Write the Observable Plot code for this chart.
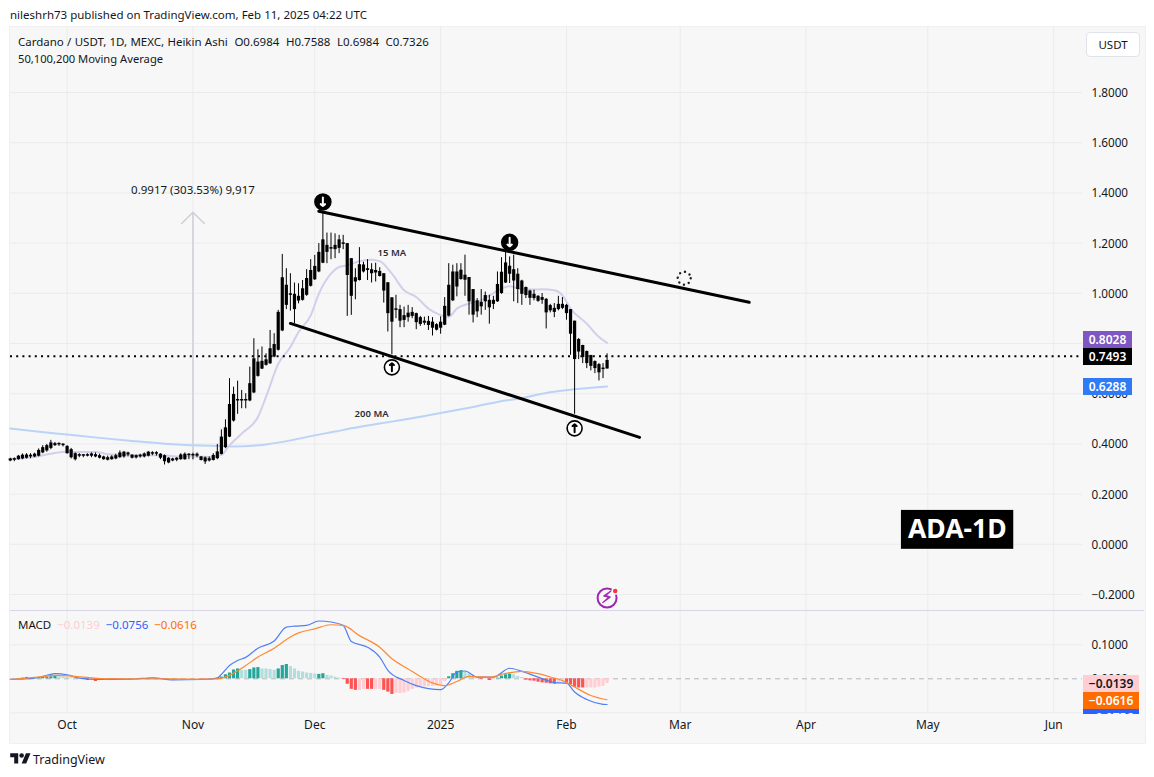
<!DOCTYPE html>
<html><head><meta charset="utf-8">
<script src="https://cdn.jsdelivr.net/npm/d3@7"></script>
<script src="https://cdn.jsdelivr.net/npm/@observablehq/plot@0.6"></script>
<style>
html,body{margin:0;padding:0;background:#fff;}
#page{position:relative;width:1154px;height:777px;overflow:hidden;font-family:"Noto Sans",sans-serif;color:#131722;font-size:11.5px;}
#frame{position:absolute;left:9px;top:26px;width:1135px;height:716px;background:#f7f7f7;border:1px solid #f0f0f0;box-sizing:content-box;}
#page svg.layer{position:absolute;left:0;top:0;}
.t{position:absolute;white-space:pre;line-height:16px;}
.tag{position:absolute;overflow:hidden;text-align:center;font-size:12px;line-height:17px;font-weight:600;color:#fff;}
</style></head><body><div id="page"><div id="frame"></div></div>
<script>
// ---- Daily Heikin Ashi candles, 2024-09-17 to 2025-02-11 ----
const highs = [
.343,.344,.354,.360,.361,.361,.363,.380,.393,.398,.414,.406,.404,.401,
.393,.382,.364,.361,.357,.361,.364,.364,.359,.351,.351,.353,.359,.372,.370,.367,.357,.356,.359,.364,.370,.369,.369,.361,.356,.345,.343,.345,.361,.364,.361,
.363,.364,.350,.348,.348,.361,.398,.456,.496,.660,.626,.650,.613,.600,.706,.819,.775,.786,.759,.852,.839,.932,1.155,1.098,1.078,1.041,1.038,1.051,1.094,1.134,
1.151,1.198,1.324,1.240,1.240,1.237,1.231,1.231,1.198,1.138,1.098,1.182,1.124,1.134,1.118,1.120,1.102,1.078,1.042,.982,.992,.952,.945,.952,.943,.921,.908,.905,.908,.903,.879,
.906,.983,1.118,1.112,1.118,1.118,1.152,1.063,1.015,.979,1.015,1.005,.992,.988,1.085,1.142,1.165,1.145,1.152,1.098,1.052,1.025,1.012,1.012,.991,.999,.979,.956,.959,.988,.983,
.956,.935,.889,.820,.793,.770,.753,.731,.720,.720,.7588];
const bodyTops = [
.340,.339,.351,.355,.356,.355,.359,.374,.385,.393,.404,.401,.400,.398,
.390,.377,.361,.356,.353,.357,.360,.357,.353,.348,.345,.348,.353,.364,.367,.364,.355,.353,.355,.360,.367,.365,.364,.359,.353,.343,.340,.343,.356,.359,.359,
.357,.359,.348,.344,.341,.354,.368,.427,.464,.557,.597,.576,.576,.576,.640,.739,.726,.729,.735,.779,.796,.924,1.062,1.032,.996,.996,.988,1.018,1.059,1.091,
1.107,1.163,1.213,1.191,1.179,1.191,1.213,1.200,1.198,1.138,1.062,1.114,1.113,1.098,1.094,1.091,1.087,1.078,1.042,.982,.937,.935,.911,.921,.924,.919,.903,.889,.888,.885,.875,
.885,.948,1.032,1.085,1.085,1.092,1.072,1.063,1.015,.970,.964,.991,.972,.972,1.035,1.084,1.121,1.108,1.094,1.076,1.049,1.023,1.009,.996,.988,.983,.976,.951,.940,.956,.956,
.952,.935,.889,.816,.792,.768,.752,.728,.716,.700,.7326];
const bodyBottoms = [
.332,.335,.337,.340,.343,.348,.348,.351,.364,.372,.382,.393,.396,.393,
.361,.345,.337,.351,.351,.351,.351,.348,.343,.337,.335,.337,.340,.345,.348,.356,.343,.344,.348,.348,.351,.359,.359,.343,.329,.324,.332,.335,.337,.337,.353,
.352,.351,.334,.328,.332,.334,.341,.358,.385,.427,.491,.571,.571,.571,.571,.603,.669,.698,.713,.719,.746,.773,.850,.952,.992,.935,.969,.972,.992,1.028,
1.054,1.085,1.120,1.163,1.176,1.174,1.179,1.195,1.071,.988,1.045,1.051,1.085,1.091,1.078,1.081,1.067,1.009,.919,.885,.932,.889,.892,.903,.908,.883,.876,.881,.872,.861,.853,
.861,.873,.909,.970,1.025,1.055,1.052,.966,.913,.926,.946,.966,.942,.956,.966,.999,1.041,1.076,1.049,1.015,.996,.991,.980,.979,.968,.972,.922,.930,.924,.935,.940,
.919,.837,.736,.766,.744,.720,.709,.700,.683,.696,.6984];
const lows = [
.329,.329,.335,.337,.340,.341,.345,.348,.361,.367,.377,.390,.390,.388,
.359,.340,.332,.345,.345,.348,.345,.345,.340,.335,.332,.335,.337,.343,.343,.348,.340,.340,.343,.344,.348,.353,.351,.337,.316,.321,.329,.329,.335,.335,.337,
.337,.345,.332,.318,.328,.332,.337,.356,.381,.425,.487,.518,.540,.540,.568,.600,.666,.696,.710,.717,.743,.770,.847,.935,.929,.879,.958,.969,.988,1.025,
1.051,1.082,1.118,1.118,1.134,1.138,1.158,1.174,.908,.912,.974,1.049,1.081,1.051,1.041,1.045,1.065,.961,.846,.755,.899,.863,.863,.885,.899,.855,.868,.872,.852,.830,.850,
.837,.871,.906,.967,.986,1.052,.988,.913,.882,.903,.913,.932,.877,.935,.964,.996,1.039,1.039,.966,.959,.952,.979,.952,.970,.964,.956,.858,.922,.903,.930,.935,
.893,.753,.518,.736,.720,.700,.691,.680,.651,.660,.6984];
const startDate = new Date("2024-09-17"), endDate = new Date("2025-02-12");
const days = d3.utcDay.range(startDate, endDate);

// ---- Moving averages ----
const ma15Dates = ["2024-09-17","2024-09-23","2024-09-27","2024-10-01","2024-10-03","2024-10-08","2024-10-11","2024-10-18","2024-10-24","2024-10-28","2024-11-01","2024-11-06","2024-11-08","2024-11-10","2024-11-13","2024-11-17","2024-11-19","2024-11-22","2024-11-25","2024-11-27","2024-11-30","2024-12-02","2024-12-05","2024-12-07","2024-12-09","2024-12-12","2024-12-15","2024-12-17","2024-12-20","2024-12-23","2024-12-26","2024-12-29","2025-01-01","2025-01-03","2025-01-05","2025-01-08","2025-01-11","2025-01-14","2025-01-16","2025-01-18","2025-01-21","2025-01-24","2025-01-26","2025-01-29","2025-01-31","2025-02-02","2025-02-06","2025-02-09","2025-02-11"];
const ma15Values = [.340,.348,.361,.370,.368,.368,.359,.355,.355,.350,.350,.348,.356,.394,.441,.507,.587,.719,.786,.846,.912,.998,1.078,1.105,1.111,1.128,1.134,1.128,1.078,1.012,.985,.939,.913,.906,.939,.959,.972,1.001,1.019,1.028,1.016,1.015,1.016,1.012,.992,.939,.879,.826,.8028];
const ma200Dates = ["2024-09-17","2024-09-23","2024-10-01","2024-10-09","2024-10-17","2024-10-25","2024-11-03","2024-11-08","2024-11-11","2024-11-19","2024-11-26","2024-12-01","2024-12-06","2024-12-10","2024-12-17","2024-12-22","2024-12-29","2025-01-07","2025-01-15","2025-01-21","2025-01-27","2025-02-01","2025-02-11"];
const ma200Values = [.461,.450,.437,.424,.412,.401,.394,.392,.390,.398,.417,.434,.449,.462,.481,.494,.514,.541,.567,.583,.603,.614,.6288];

// ---- Drawn trend lines and annotations ----
const upperTrendDates = ["2024-12-02","2025-03-18"], upperTrendValues = [1.327,.964];
const lowerTrendDates = ["2024-11-25","2025-02-19"], lowerTrendValues = [.880,.426];
const lastPrice = .7493;
const downMarkers = [["2024-12-03",1.364],["2025-01-18",1.203]];
const upMarkers = [["2024-12-20",.705],["2025-02-03",.462]];
const priceTicks = [1.8,1.6,1.4,1.2,1.0,.8,.6,.4,.2,0,-.2];
const monthTicks = ["2024-10-01","2024-11-01","2024-12-01","2025-01-01","2025-02-01","2025-03-01","2025-04-01","2025-05-01","2025-06-01"];
const monthLabels = ["Oct","Nov","Dec","2025","Feb","Mar","Apr","May","Jun"];

// ---- MACD panel ----
const histValues = [
0,0,.001,.002,.004,.003,.003,.003,.004,.005,.006,.007,.006,.005,
.004,.003,.002,0,-.002,-.005,-.004,-.008,-.002,-.003,-.004,-.004,-.005,-.003,-.002,-.001,-.001,0,0,0,.001,.001,.001,0,-.001,-.001,-.001,-.001,-.001,-.001,0,
0,0,-.001,-.001,-.001,0,.002,.005,.012,.017,.026,.029,.025,.025,.027,.032,.033,.029,.029,.027,.025,.029,.039,.042,.036,.029,.022,.020,.017,.016,
.014,.013,.015,.010,.008,.005,.002,-.002,-.016,-.031,-.034,-.034,-.031,-.031,-.031,-.031,-.031,-.034,-.039,-.046,-.043,-.043,-.042,-.037,-.031,-.027,-.025,-.024,-.023,-.023,-.021,
-.018,-.008,.006,.015,.022,.024,.020,.014,.005,.002,-.002,-.001,-.005,-.003,.002,.008,.012,.014,.012,.007,.004,-.004,-.006,-.007,-.010,-.012,-.013,-.015,-.016,-.012,-.011,
-.013,-.017,-.025,-.027,-.027,-.027,-.027,-.027,-.024,-.022,-.0139];
const histKinds = (
"TTTTTLLTTTTTLL"+
"LLLLRRPRPRRRRPPPPLLLTTTLRRRPPPL"+
"LLRRPLTTTTTTLLTTTLLLLTTTLLLLLL"+
"LTTLLLLRRRRPPRRPPRRRPPPPPPPPPPP"+
"PPTTTTLLLLRPRPTTTTLLLRRRRRRRRPP"+
"RRRRRPPPPPP").split("");
const histColors = {T:"#26a69a",L:"#b2dfdb",R:"#ff5252",P:"#ffcdd2"};
const macdDates = ["2024-09-17","2024-09-23","2024-09-25","2024-09-28","2024-10-01","2024-10-04","2024-10-09","2024-10-17","2024-10-22","2024-10-27","2024-11-03","2024-11-07","2024-11-08","2024-11-10","2024-11-12","2024-11-14","2024-11-17","2024-11-21","2024-11-24","2024-11-26","2024-11-29","2024-12-02","2024-12-05","2024-12-08","2024-12-10","2024-12-14","2024-12-17","2024-12-19","2024-12-23","2024-12-26","2024-12-29","2025-01-01","2025-01-03","2025-01-05","2025-01-07","2025-01-10","2025-01-14","2025-01-18","2025-01-21","2025-01-25","2025-01-29","2025-02-01","2025-02-03","2025-02-06","2025-02-10","2025-02-11"];
const macdValues = [-.002,.002,.007,.015,.012,.002,-.002,-.001,.003,-.003,-.002,.002,.013,.039,.054,.063,.090,.111,.152,.155,.157,.170,.167,.157,.110,.093,.064,.025,-.005,-.020,-.029,-.032,-.012,.020,.023,.005,.005,.031,.022,.005,-.011,-.013,-.039,-.061,-.075,-.0756];
const signalDates = ["2024-09-17","2024-09-23","2024-09-28","2024-10-05","2024-10-11","2024-10-17","2024-11-03","2024-11-07","2024-11-10","2024-11-14","2024-11-17","2024-11-21","2024-11-25","2024-11-27","2024-12-01","2024-12-05","2024-12-08","2024-12-12","2024-12-17","2024-12-20","2024-12-24","2024-12-27","2024-12-30","2025-01-02","2025-01-05","2025-01-08","2025-01-13","2025-01-17","2025-01-21","2025-01-25","2025-01-29","2025-01-31","2025-02-03","2025-02-07","2025-02-11"];
const signalValues = [-.002,.004,.010,.005,0,0,-.001,0,.010,.039,.064,.090,.123,.135,.147,.159,.157,.127,.093,.059,.029,.007,-.012,-.020,-.008,.007,.005,.016,.022,.015,.002,-.005,-.024,-.049,-.0616];
const macdTicks = [.1,0];

const FONT = '"Noto Sans",sans-serif';
const INK = "#131722", GRID = "#ebebeb";
const xScale = {type:"utc", domain:[new Date("2024-09-17"), new Date("2025-06-08")], range:[9.76,1081.6]};
const D = s => new Date(s);
const series = (ds,vs) => ds.map((d,i)=>({d:D(d),v:vs[i]}));
const fmt = v => (v<0?"\u2212":"")+Math.abs(v).toFixed(4);
const page = document.getElementById("page");
const baseOpts = {width:1154, marginLeft:10, marginRight:72, x:xScale,
  style:{background:"transparent", fontFamily:FONT, fontSize:"11.5px", color:INK, overflow:"visible"}};

const price = Plot.plot({...baseOpts, height:743, marginTop:27, marginBottom:133,
  y:{domain:[1.8,-.2], range:[92,594]},
  marks:[
    Plot.ruleY(priceTicks,{stroke:GRID, strokeWidth:1}),
    Plot.ruleX(monthTicks.map(D),{stroke:GRID, strokeWidth:1, y1:2.06, y2:-.263}),
    Plot.axisY({anchor:"right", ticks:priceTicks, tickSize:0, tickPadding:9, dy:0.8, tickFormat:fmt, label:null, fontSize:11.7, fill:INK}),
    Plot.axisX({ticks:[], label:null, tickSize:0}),
    // measure arrow
    Plot.arrow([0],{x1:D("2024-11-01"),y1:.338,x2:D("2024-11-01"),y2:1.323,stroke:"#cfd1d8",strokeWidth:1.6,headLength:15,headAngle:90,bend:0}),
    Plot.text(["0.9917 (303.53%) 9,917"],{x:D("2024-11-01"),y:1.41,text:d=>d,fill:INK,fontSize:11.5}),
    // moving averages
    Plot.line(series(ma200Dates,ma200Values),{x:"d",y:"v",stroke:"#bbd3f8",strokeWidth:2,curve:"monotone-x"}),
    Plot.line(series(ma15Dates,ma15Values),{x:"d",y:"v",stroke:"#d5cdec",strokeWidth:2,curve:"monotone-x"}),
    // last price
    Plot.ruleY([lastPrice],{stroke:"#000",strokeWidth:2,strokeDasharray:"2 4.2"}),
    // candles
    Plot.ruleX(days,{x:d=>d,y1:(d,i)=>lows[i],y2:(d,i)=>highs[i],stroke:"#000",strokeWidth:1}),
    Plot.ruleX(days,{x:d=>d,y1:(d,i)=>bodyBottoms[i],y2:(d,i)=>Math.max(bodyTops[i],bodyBottoms[i]+.006),stroke:"#000",strokeWidth:3.2}),
    // trend lines
    Plot.line(series(upperTrendDates,upperTrendValues),{x:"d",y:"v",stroke:"#000",strokeWidth:3}),
    Plot.line(series(lowerTrendDates,lowerTrendValues),{x:"d",y:"v",stroke:"#000",strokeWidth:3}),
    // markers
    Plot.dot(downMarkers,{x:d=>D(d[0]),y:d=>d[1],r:8,fill:"#000",stroke:"#000"}),
    Plot.arrow(downMarkers,{x1:d=>D(d[0]),x2:d=>D(d[0]),y1:d=>d[1]+.018,y2:d=>d[1]-.016,stroke:"#fff",strokeWidth:2,headLength:2.4,headAngle:100,bend:0}),
    Plot.dot(upMarkers,{x:d=>D(d[0]),y:d=>d[1],r:7.5,fill:"#fff",stroke:"#000",strokeWidth:1.6}),
    Plot.arrow(upMarkers,{x1:d=>D(d[0]),x2:d=>D(d[0]),y1:d=>d[1]-.016,y2:d=>d[1]+.016,stroke:"#000",strokeWidth:2,headLength:2.2,headAngle:100,bend:0}),
    Plot.text(["15 MA"],{x:D("2024-12-20"),y:1.159,text:d=>d,fontSize:9.5,fontWeight:600,fill:"#2a2e39"}),
    Plot.text(["200 MA"],{x:D("2024-12-15"),y:.518,text:d=>d,fontSize:9.5,fontWeight:600,fill:"#2a2e39"}),
    // spinner
    Plot.dot([0],{x:D("2025-03-02"),y:1.06,r:6.5,fill:"none",stroke:"#1c1c1c",strokeWidth:2.4,strokeLinecap:"round",strokeDasharray:"0.01 5.1"}),
    // ADA-1D label
    Plot.rect([0],{x1:D("2025-04-24T12:00"),x2:D("2025-05-22T04:00"),y1:.135,y2:-.02,fill:"#000"}),
    Plot.text(["ADA-1D"],{x:D("2025-05-08T06:00"),y:.0575,text:d=>d,fill:"#fff",fontSize:26.5,fontWeight:700}),
    // lightning badge
    Plot.dot([0],{x:D("2025-02-11"),y:-.214,r:9.5,fill:"#f7f7f7",stroke:"#9c27b0",strokeWidth:2}),
    Plot.text(["\u26A1"],{x:D("2025-02-11"),y:-.214,text:d=>d,fill:"#9c27b0",stroke:"#9c27b0",strokeWidth:0.6,fontSize:17,fontFamily:"DejaVu Sans"}),
    Plot.dot([0],{x:D("2025-02-13"),y:-.186,r:3,fill:"#f23645",stroke:"#f7f7f7",strokeWidth:1.5})
  ]});
price.classList.add("layer");
page.appendChild(price);

const macd = Plot.plot({...baseOpts, height:743, marginTop:611, marginBottom:31,
  y:{domain:[.1,-.1], range:[644.3,712.3]},
  marks:[
    Plot.ruleY([.1,-.1],{stroke:GRID, strokeWidth:1}),
    Plot.ruleX(monthTicks.map(D),{stroke:GRID, strokeWidth:1, y1:.198, y2:-.1}),
    Plot.ruleY([0],{stroke:"#b2b5be",strokeWidth:1,strokeDasharray:"5 4"}),
    Plot.axisY({anchor:"right", ticks:macdTicks, tickSize:0, tickPadding:9, dy:0.8, tickFormat:fmt, label:null, fontSize:11.7, fill:INK}),
    Plot.axisX({ticks:monthTicks.map(D), tickSize:0, tickPadding:8, label:null, fontSize:12, fill:INK, tickFormat:(d,i)=>monthLabels[i], fontWeight:d=>d.getUTCFullYear()===2025&&d.getUTCMonth()===0?700:400}),
    Plot.ruleX(days,{x:d=>d,y1:0,y2:(d,i)=>histValues[i],strokeWidth:3.2,stroke:(d,i)=>histColors[histKinds[i]]}),
    Plot.line(series(macdDates,macdValues),{x:"d",y:"v",stroke:"#4f7ff5",strokeWidth:1.2,curve:"monotone-x"}),
    Plot.line(series(signalDates,signalValues),{x:"d",y:"v",stroke:"#ff8a33",strokeWidth:1.2,curve:"monotone-x"})
  ]});
macd.classList.add("layer");
page.appendChild(macd);

// Pane divider
const divider = document.createElement("div");
divider.style.cssText = "position:absolute;left:10px;top:610px;width:1134px;height:1px;background:#d8d6e6;";
page.appendChild(divider);

// ---- HTML overlays: captions and axis tags ----
function text(left, top, html, extra=""){
  const el = document.createElement("div");
  el.className = "t"; el.style.cssText = `left:${left}px;top:${top}px;${extra}`;
  el.innerHTML = html; page.appendChild(el); return el;
}
function tag(left, top, w, h, bg, label, color="#fff"){
  const el = document.createElement("div");
  el.className = "tag"; el.style.cssText = `left:${left}px;top:${top}px;width:${w}px;height:${h}px;background:${bg};color:${color};`;
  el.textContent = label; page.appendChild(el);
}
text(10,7,"nileshrh73 published on TradingView.com, Feb 11, 2025 04:22 UTC");
text(18,34,"Cardano / USDT, 1D, MEXC, Heikin Ashi  O0.6984  H0.7588  L0.6984  C0.7326","word-spacing:0.3px;");
text(18,51,"50,100,200 Moving Average","font-size:11.2px;");
text(18,617,'MACD  <span style="color:#ffcdd2">\u22120.0139</span>  <span style="color:#2962ff">\u22120.0756</span>  <span style="color:#ff6d00">\u22120.0616</span>');
tag(1083,331,49,17,"#7e57c2","0.8028");
tag(1083,348,49,17,"#000","0.7493");
tag(1083,378,49,17,"#2f7bf5","0.6288");
tag(1083,675,56,17,"#ffcdd2","\u22120.0139","#131722");
tag(1083,692,56,17,"#ff6d00","\u22120.0616");
tag(1083,709,56,5,"#2962ff","\u22120.0756");
const usdt = text(1086,32,"USDT","width:54px;height:25px;box-sizing:border-box;background:#fff;border:1px solid #e0e3eb;border-radius:4px;text-align:center;line-height:23px;");
const footer = text(10,751,'<svg width="21" height="16" viewBox="0 0 36 28" style="vertical-align:-3px;margin-right:2px"><path fill="#131722" d="M14 22H7V11H0V4h14v18zM28 22h-8l7.5-18h8L28 22z"/><circle cx="20" cy="8" r="4" fill="#131722"/></svg><span style="font-size:12.5px">TradingView</span>');
</script></body></html>
